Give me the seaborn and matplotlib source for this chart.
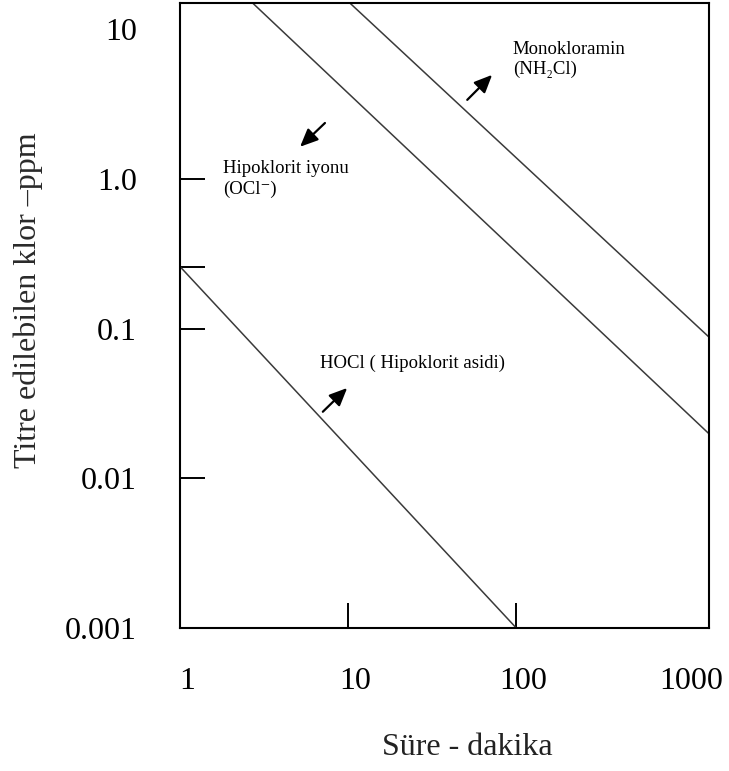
import matplotlib
matplotlib.use("Agg")
import matplotlib.pyplot as plt
import matplotlib.transforms as mtransforms
import seaborn as sns
import pandas as pd

# line end points (time in minutes, chlorine in ppm)
hocl_t = [1, 100]
hocl_c = [0.26, 0.001]
ocl_t = [2.72, 1390]
ocl_c = [14.9, 0.020]
nh2cl_t = [10.3, 1390]
nh2cl_c = [14.9, 0.0885]

x_ticks = [1, 10, 100, 1000]
x_labels = ["1", "10", "100", "1000"]
y_ticks = [0.001, 0.01, 0.1, 1.0, 10]
y_labels = ["0.001", "0.01", "0.1", "1.0", "10"]
# small tick marks drawn on the frame
x_marks = [10, 100]
y_marks = [0.01, 0.1, 0.26, 1.0]

sns.set_theme(style="white")
plt.rcParams['font.family'] = ['Liberation Serif', 'DejaVu Serif']

df = pd.concat([
    pd.DataFrame({'t': hocl_t, 'c': hocl_c, 'tur': 'HOCl'}),
    pd.DataFrame({'t': ocl_t, 'c': ocl_c, 'tur': 'OCl'}),
    pd.DataFrame({'t': nh2cl_t, 'c': nh2cl_c, 'tur': 'NH2Cl'}),
])

fig = plt.figure(figsize=(7.29, 7.71), dpi=100)
ax = fig.add_axes([180 / 729, 143 / 771, 529 / 729, 625 / 771])

for name, grp in df.groupby('tur'):
    sns.lineplot(data=grp, x='t', y='c', ax=ax, color='#3a3a3a', linewidth=1.1,
                 legend=False)

ax.set_xscale('log')
ax.set_yscale('log')
ax.set_xlim(1, 1400)
ax.set_ylim(0.001, 15)

ax.set_xticks(x_ticks)
ax.set_xticklabels(x_labels)
ax.set_yticks(y_ticks)
ax.set_yticklabels(y_labels)
ax.xaxis.remove_overlapping_locs = False
ax.yaxis.remove_overlapping_locs = False
ax.set_xticks(x_marks, minor=True)
ax.set_yticks(y_marks, minor=True)
ax.xaxis.set_minor_formatter(matplotlib.ticker.NullFormatter())
ax.yaxis.set_minor_formatter(matplotlib.ticker.NullFormatter())
ax.tick_params(which='major', length=0, labelsize=23, colors='black')
ax.tick_params(axis='y', which='major', pad=31)
ax.tick_params(axis='x', which='major', pad=28)
ax.tick_params(which='minor', direction='in', length=18, width=1.4, color='black',
               left=True, bottom=True)

# x labels sit a bit to the right of their ticks in the original
shift = mtransforms.ScaledTranslation(7 / 100, 0, fig.dpi_scale_trans)
for lab in ax.get_xticklabels():
    lab.set_transform(lab.get_transform() + shift)

for sp in ax.spines.values():
    sp.set_color('black')
    sp.set_linewidth(1.5)

ax.set_xlabel("Süre - dakika", fontsize=23, color='#222222')
ax.set_ylabel("Titre edilebilen klor \u2013ppm", fontsize=23, color='#2a2a2a')
ax.xaxis.set_label_coords(0.543, -0.168)
ax.yaxis.set_label_coords(-0.259, 0.525)

txt = dict(fontsize=13.5, color='black', va='top', ha='left', transform=ax.transAxes,
           linespacing=1.25)
ax.text(0.629, 0.940, "Monokloramin\n(NH\u2082Cl)", **txt)
ax.text(0.081, 0.749, "Hipoklorit iyonu\n(OCl\u207b)", **txt)
ax.text(0.265, 0.437, "HOCl ( Hipoklorit asidi)", **txt)

arrow = dict(arrowstyle='-|>,head_length=0.9,head_width=0.4', color='black', lw=1.6,
             shrinkA=0, shrinkB=0)
ax.annotate("", xy=(0.590, 0.885), xytext=(0.543, 0.845), xycoords='axes fraction',
            arrowprops=arrow)
ax.annotate("", xy=(0.227, 0.770), xytext=(0.274, 0.808), xycoords='axes fraction',
            arrowprops=arrow)
ax.annotate("", xy=(0.316, 0.384), xytext=(0.270, 0.346), xycoords='axes fraction',
            arrowprops=arrow)

fig.savefig("out.png", dpi=100)
